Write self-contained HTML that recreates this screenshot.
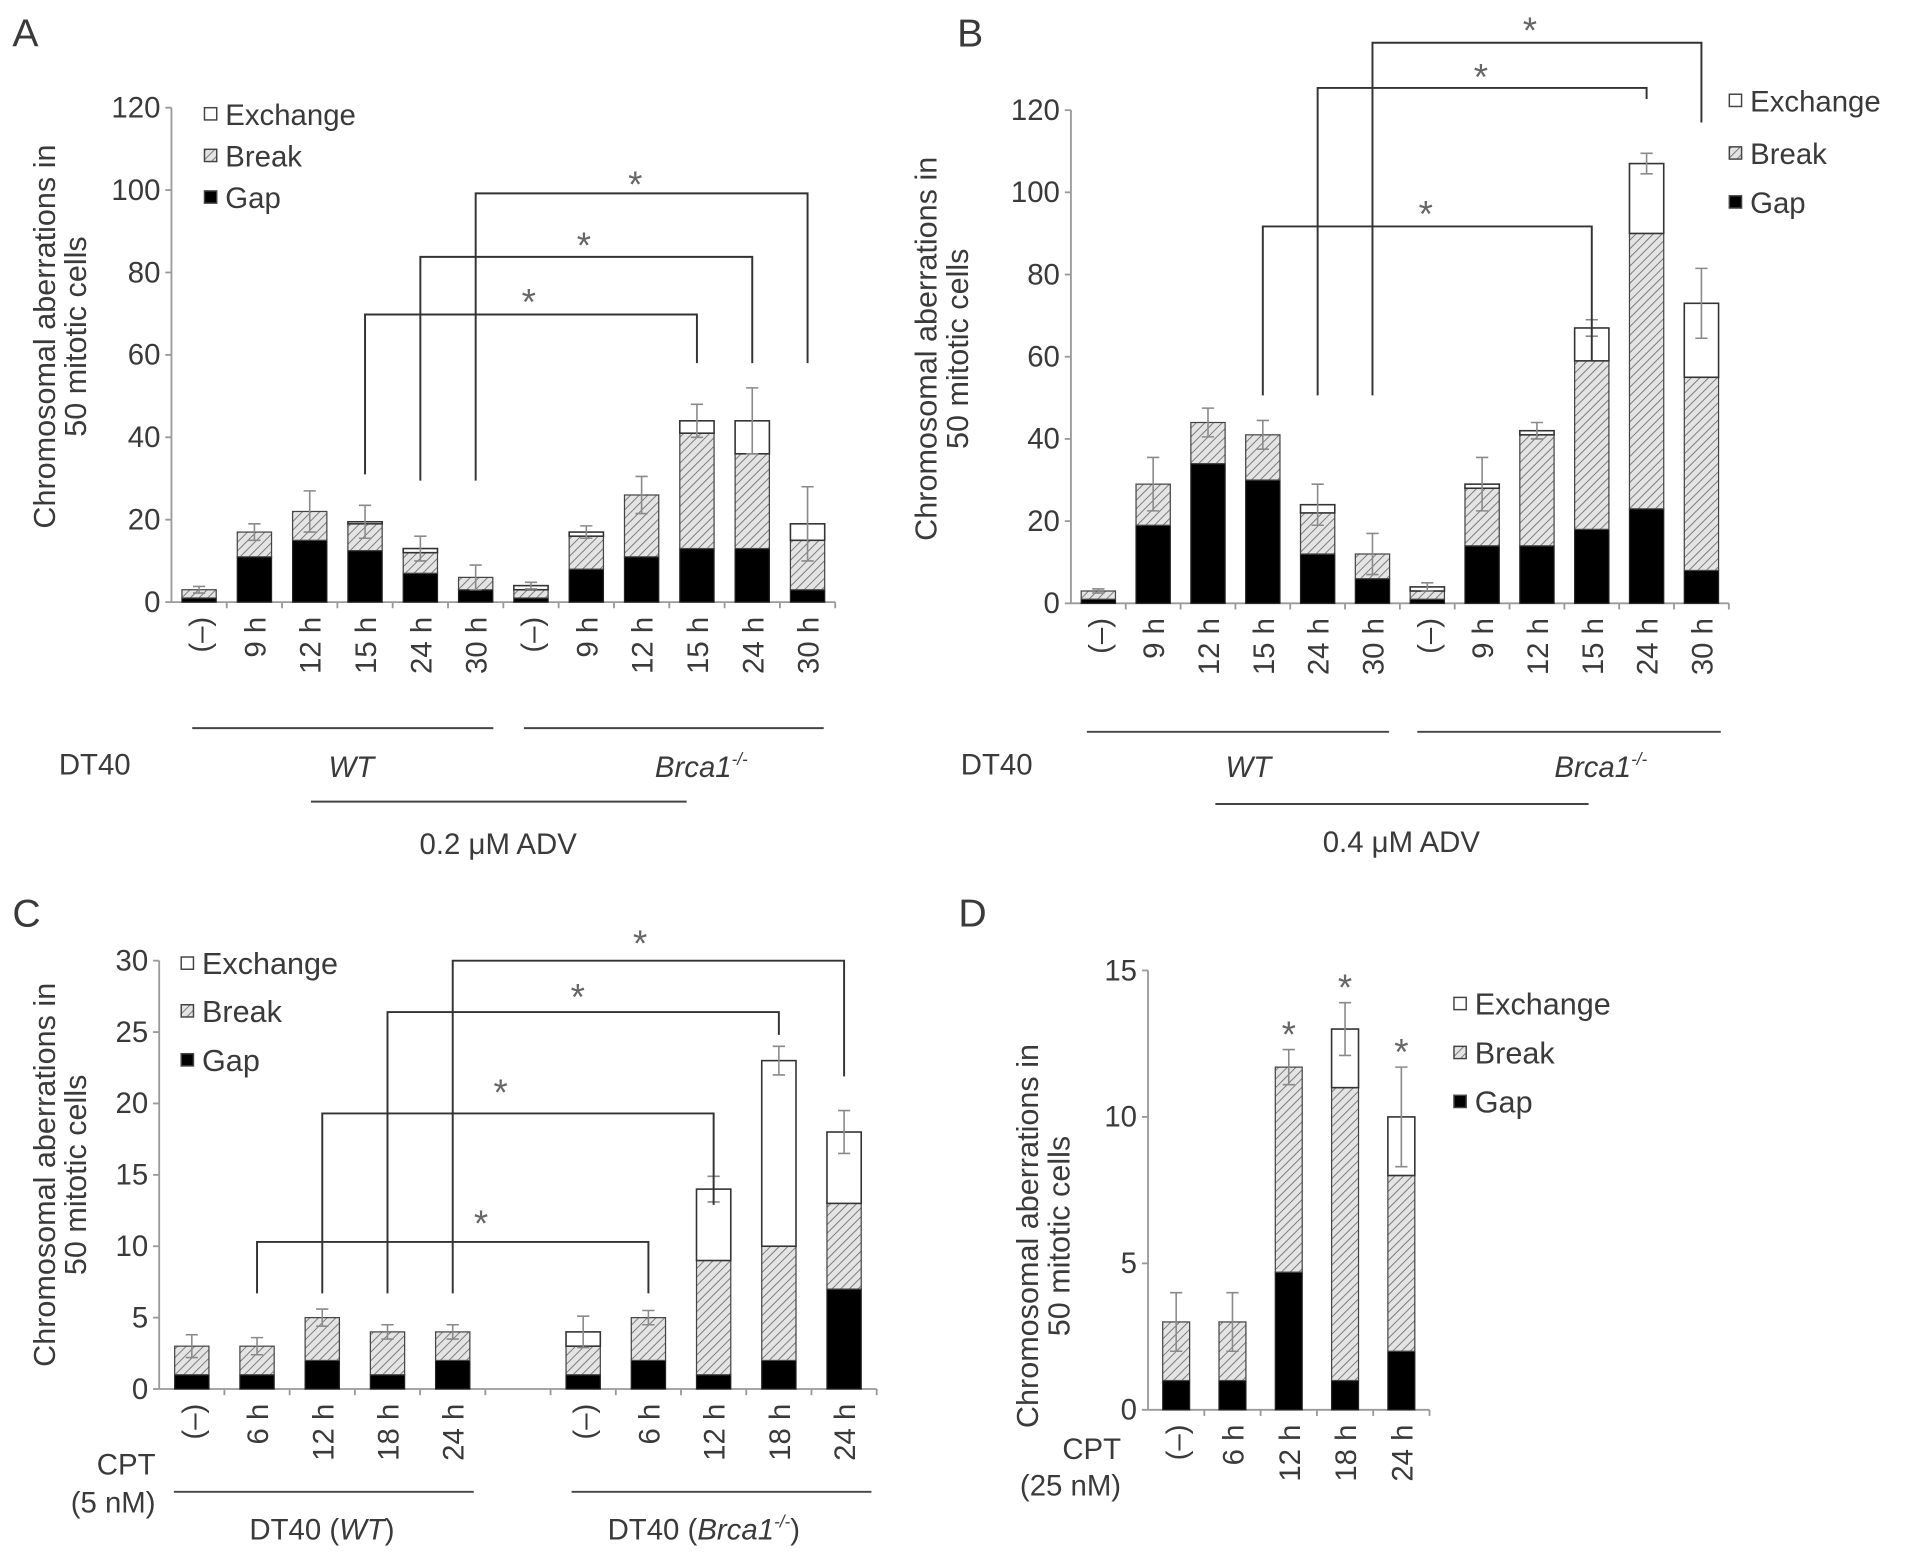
<!DOCTYPE html>
<html><head><meta charset="utf-8"><style>
html,body{margin:0;padding:0;background:#fff}
svg{display:block}
text{font-family:"Liberation Sans",sans-serif;fill:#3a3a3a}
</style></head><body>
<svg id="fig" xmlns="http://www.w3.org/2000/svg" width="1913" height="1553" viewBox="0 0 1563 1269">
<defs>
<pattern id="hatch" patternUnits="userSpaceOnUse" width="5" height="5" patternTransform="rotate(45)">
<rect width="5" height="5" fill="#e4e4e4"/><line x1="0" y1="0" x2="0" y2="5" stroke="#7a7a7a" stroke-width="1.6"/>
</pattern>
</defs>
<g id="root"></g>
</svg>
<script>
// ---------- Panel A data (0.2 uM ADV) ----------
const aCats = ["(\u2013)","9 h","12 h","15 h","24 h","30 h","(\u2013)","9 h","12 h","15 h","24 h","30 h"];
const aGap  = [1,11,15,12.5,7,3,1,8,11,13,13,3];
const aBreak= [2,6,7,6.5,5,3,2,8,15,28,23,12];
const aExch = [0,0,0,0.5,1,0,1,1,0,3,8,4];
const aErr  = [0.8,2,5,4,3,3,0.8,1.5,4.5,4,8,9];
const aTicks= [0,20,40,60,80,100,120];
// ---------- Panel B data (0.4 uM ADV) ----------
const bCats = ["(\u2013)","9 h","12 h","15 h","24 h","30 h","(\u2013)","9 h","12 h","15 h","24 h","30 h"];
const bGap  = [1,19,34,30,12,6,1,14,14,18,23,8];
const bBreak= [2,10,10,11,10,6,2,14,27,41,67,47];
const bExch = [0,0,0,0,2,0,1,1,1,8,17,18];
const bErr  = [0.5,6.5,3.5,3.5,5,5,1,6.5,2,2,2.5,8.5];
const bTicks= [0,20,40,60,80,100,120];
// ---------- Panel C data (CPT 5 nM) ----------
const cCats = ["(\u2013)","6 h","12 h","18 h","24 h","","(\u2013)","6 h","12 h","18 h","24 h"];
const cGap  = [1,1,2,1,2,null,1,2,1,2,7];
const cBreak= [2,2,3,3,2,null,2,3,8,8,6];
const cExch = [0,0,0,0,0,null,1,0,5,13,5];
const cErr  = [0.8,0.6,0.6,0.5,0.5,null,1.1,0.5,0.9,1,1.5];
const cTicks= [0,5,10,15,20,25,30];
// ---------- Panel D data (CPT 25 nM) ----------
const dCats = ["(\u2013)","6 h","12 h","18 h","24 h"];
const dGap  = [1,1,4.7,1,2];
const dBreak= [2,2,7,10,6];
const dExch = [0,0,0,2,2];
const dErr  = [1,1,0.6,0.9,1.7];
const dTicks= [0,5,10,15];

const NS="http://www.w3.org/2000/svg";
const root=document.getElementById('root');
function mk(tag,attrs,parent,txt){const e=document.createElementNS(NS,tag);for(const k in attrs)e.setAttribute(k,attrs[k]);if(txt!==undefined)e.textContent=txt;(parent||root).appendChild(e);return e;}

function drawPanel(p,cats,gap,brk,exch,err,ticks){
  const g=mk('g',{});
  
  
  const ys=v=>p.y0-(v/p.max)*(p.y0-p.yTop);
  const xs=i=>p.x0+p.w*(i+0.5);
  const xEnd=p.x0+p.w*cats.length;
  const ya=mk('line',{x1:p.x0,y1:p.y0,x2:p.x0,y2:p.yTop,stroke:'#9a9a9a','stroke-width':1.5},g);
  
  
  const xa=mk('line',{x1:p.x0,y1:p.y0,x2:xEnd,y2:p.y0,stroke:'#9a9a9a','stroke-width':1.5},g);
  
  
  ticks.forEach(t=>{
    mk('line',{x1:p.x0-5,y1:ys(t),x2:p.x0,y2:ys(t),stroke:'#9a9a9a','stroke-width':1.5},g);
    const tl=mk('text',{x:p.x0-9,y:ys(t)+8,'text-anchor':'end','font-size':p.fs},g,String(t));
    
    
  });
  for(let i=1;i<=cats.length;i++){mk('line',{x1:p.x0+p.w*i,y1:p.y0,x2:p.x0+p.w*i,y2:p.y0+5,stroke:'#9a9a9a','stroke-width':1.5},g);}
  cats.forEach((c,i)=>{
    if(c){
      const cl=mk('text',{x:0,y:0,'text-anchor':'end','font-size':p.fs,transform:`translate(${xs(i)+9},${p.y0+12}) rotate(-90)`},g,c);
      
      
    }
    if(gap[i]===null)return;
    const bw=p.bw, x=xs(i)-bw/2;
    const t1=gap[i], t2=t1+brk[i], t3=t2+exch[i];
    const r1=mk('rect',{x:x,y:ys(t1),width:bw,height:ys(0)-ys(t1),fill:'#000',stroke:'#222','stroke-width':1},g);
    
    
    const r2=mk('rect',{x:x,y:ys(t2),width:bw,height:ys(t1)-ys(t2),fill:'url(#hatch)',stroke:'#444','stroke-width':1},g);
    
    
    if(exch[i]>0){
      const r3=mk('rect',{x:x,y:ys(t3),width:bw,height:ys(t2)-ys(t3),fill:'#fff',stroke:'#333','stroke-width':1.3},g);
      
      
    }
    const e=err[i];
    const eb=mk('path',{d:`M${xs(i)},${ys(t3-e)}V${ys(t3+e)}M${xs(i)-5},${ys(t3+e)}H${xs(i)+5}M${xs(i)-5},${ys(t3-e)}H${xs(i)+5}`,stroke:'#8a8a8a','stroke-width':1.3,fill:'none'},g);
    
    
  });
  return {ys,xs,g};
}
function star(parent,x,y){
  const s=mk('text',{x:x,y:y+4,'text-anchor':'middle','font-size':30,style:'fill:#666'},parent,'*');
  
  
}
function bracket(P,i1,i2,yv,yl,yr,ax,ay){
  const x1=P.xs(i1),x2=P.xs(i2);
  const b=mk('path',{d:`M${x1},${P.ys(yl)}V${P.ys(yv)}H${x2}V${P.ys(yr)}`,stroke:'#333','stroke-width':1.6,fill:'none'},P.g);
  
  
  star(P.g,ax,ay);
}
function legend(x,ys,fs){
  const fills=['#fff','url(#hatch)','#000'];const lbl=['Exchange','Break','Gap'];
  lbl.forEach((l,k)=>{
    const r=mk('rect',{x:x,y:ys[k]-5,width:10,height:10,fill:fills[k],stroke:'#444','stroke-width':1.2});
    
    
    const t=mk('text',{x:x+17,y:ys[k]+9,'font-size':fs},undefined,l);
    
    
  });
}
function ytitle(cx1,cx2,cy,fs){
  const a=mk('text',{'text-anchor':'middle','font-size':fs,transform:`translate(${cx1+8},${cy}) rotate(-90)`},undefined,'Chromosomal aberrations in');
  
  
  const b=mk('text',{'text-anchor':'middle','font-size':fs,transform:`translate(${cx2+8},${cy}) rotate(-90)`},undefined,'50 mitotic cells');
  
  
}
function txt(x,y,s,fs,anchor,name,html){
  const t=mk('text',{x:x,y:y,'font-size':fs,'text-anchor':anchor||'start'});
  t.innerHTML=html||s;
  
  
  return t;
}
function hline(x1,x2,y){const l=mk('line',{x1:x1,y1:y,x2:x2,y2:y,stroke:'#444','stroke-width':1.6});
  
  }

// Panel A
const PA=drawPanel({name:'panel-a-chart',x0:140,y0:492,yTop:88,max:120,w:45.2,bw:28,fs:24},aCats,aGap,aBreak,aExch,aErr,aTicks);
bracket(PA,3,9,69.8,31,58,432,253);
bracket(PA,4,10,83.8,29.5,58,477,207);
bracket(PA,5,11,99.2,29.5,58,519,157);
legend(167,[93,127,161],24);
ytitle(37,62,275,25);
txt(10,38,'A',32,'start','panel-label-a');
hline(157,403,595);hline(428,673,595);
txt(48,633,'DT40',24,'start','dt40-label');
txt(287,635,'',24,'middle','wt-label','<tspan font-style="italic">WT</tspan>');
txt(573,635,'',24,'middle','brca1-label','<tspan font-style="italic">Brca1</tspan><tspan font-size="14" dy="-10" font-style="italic">-/-</tspan>');
hline(254,561,655);
txt(407,698,'0.2 \u03bcM ADV',24,'middle','treatment-label-a');

// Panel B
const PB=drawPanel({name:'panel-b-chart',x0:875,y0:493,yTop:90,max:120,w:44.8,bw:28,fs:24},bCats,bGap,bBreak,bExch,bErr,bTicks);
bracket(PB,3,9,91.7,50.6,59,1165,181);
bracket(PB,4,10,125.4,50.6,122.7,1210,69);
bracket(PB,5,11,136.4,50.6,117,1250,31);
legend(1413,[82,125,165],24);
ytitle(757,783,285,25);
txt(782,38,'B',32,'start','panel-label-b');
hline(888,1135,598);hline(1158,1406,598);
txt(785,633,'DT40',24,'start','dt40-label-b');
txt(1020,635,'',24,'middle','wt-label-b','<tspan font-style="italic">WT</tspan>');
txt(1308,635,'',24,'middle','brca1-label-b','<tspan font-style="italic">Brca1</tspan><tspan font-size="14" dy="-10" font-style="italic">-/-</tspan>');
hline(993,1298,657);
txt(1145,696,'0.4 \u03bcM ADV',24,'middle','treatment-label-b');

// Panel C
const PC=drawPanel({name:'panel-c-chart',x0:130,y0:1135,yTop:785,max:30,w:53.3,bw:28,fs:24},cCats,cGap,cBreak,cExch,cErr,cTicks);
bracket(PC,1,7,10.3,6.7,6.7,393,1006);
bracket(PC,2,8,19.3,6.7,12.9,409,899);
bracket(PC,3,9,26.4,6.7,24.8,472,821);
bracket(PC,4,10,30,6.7,21.9,523,777);
legend(148,[787,826,866],25);
ytitle(37,62,960,25);
txt(10,757,'C',32,'start','panel-label-c');
txt(127,1205,'CPT',24,'end','cpt-label-c');
txt(127,1236,'(5 nM)',24,'end','cpt-dose-c');
hline(142,387,1219);hline(467,712,1219);
txt(263,1258,'',24,'middle','dt40-wt-label','DT40 (<tspan font-style="italic">WT</tspan>)');
txt(575,1258,'',24,'middle','dt40-brca1-label','DT40 (<tspan font-style="italic">Brca1</tspan><tspan font-size="14" dy="-10" font-style="italic">-/-</tspan><tspan dy="10">)</tspan>');

// Panel D
const PD=drawPanel({name:'panel-d-chart',x0:938,y0:1152,yTop:793,max:15,w:46,bw:22,fs:24},dCats,dGap,dBreak,dExch,dErr,dTicks);
[[2,12.3],[3,13.9],[4,11.7]].forEach(a=>{ star(PD.g,PD.xs(a[0]),PD.ys(a[1])-6); });
legend(1188,[820,860,900],25);
ytitle(840,866,1010,25);
txt(783,757,'D',32,'start','panel-label-d');
txt(916,1192,'CPT',24,'end','cpt-label-d');
txt(916,1222,'(25 nM)',24,'end','cpt-dose-d');
</script>
</body></html>
